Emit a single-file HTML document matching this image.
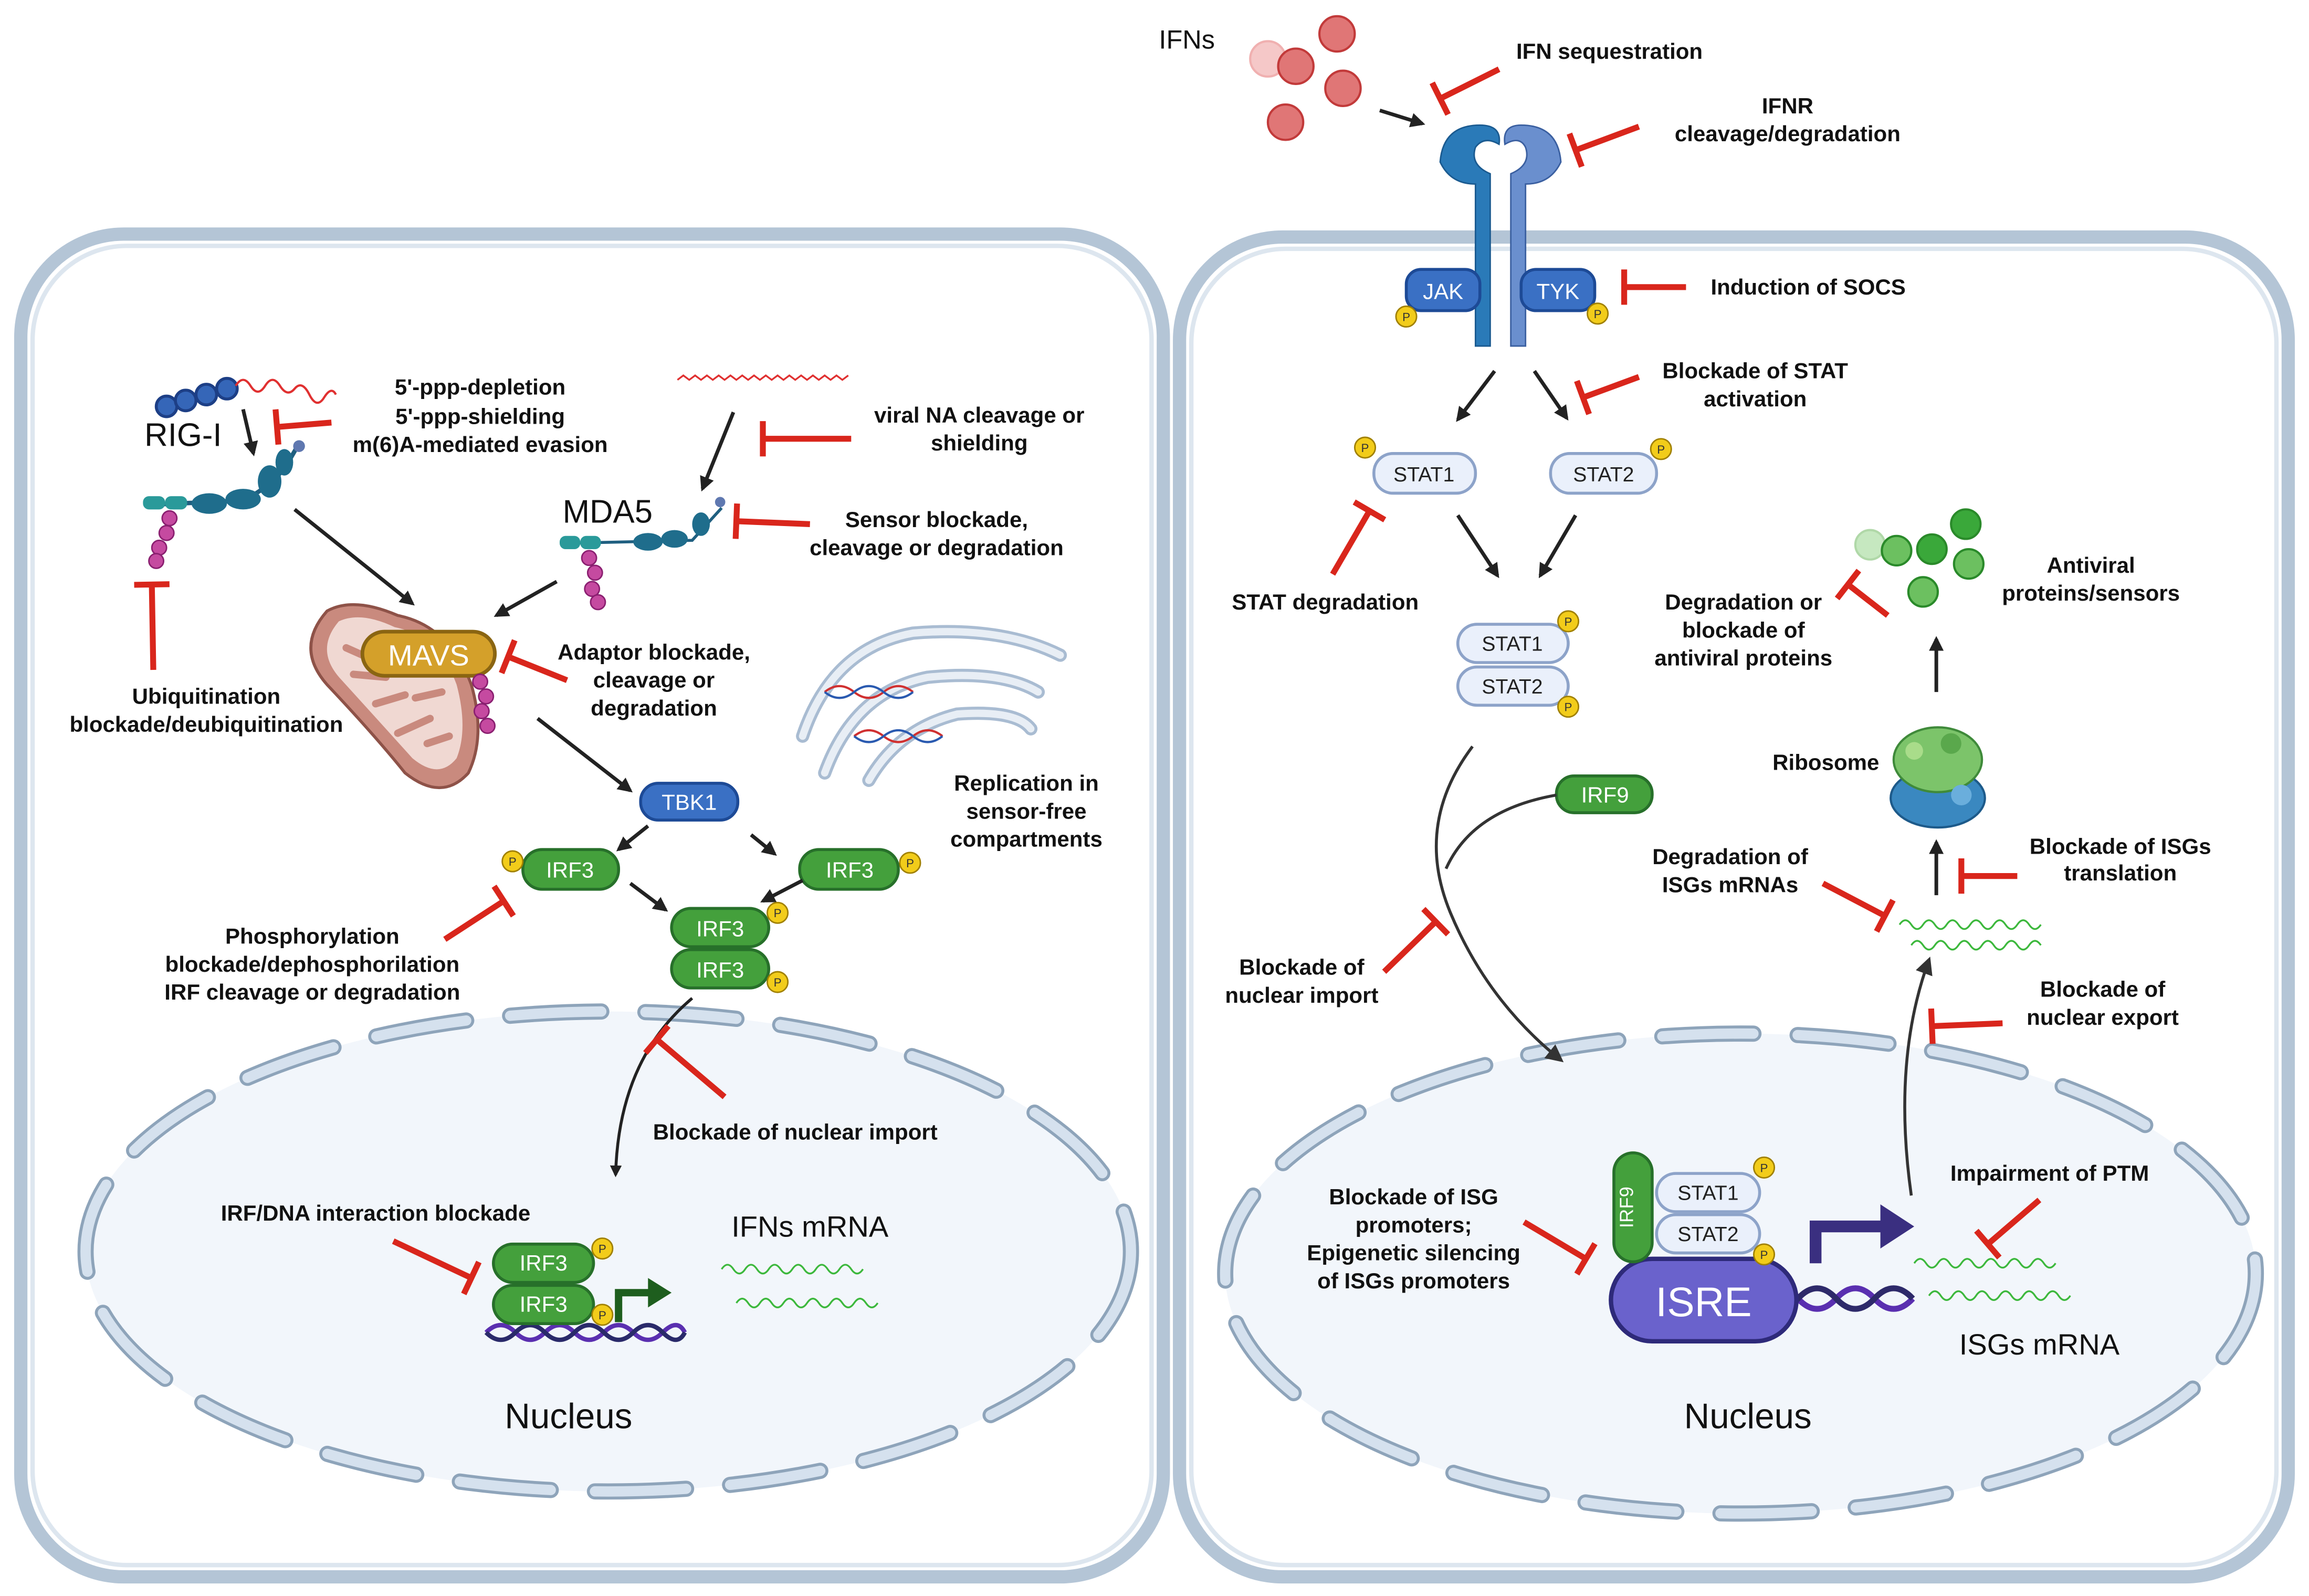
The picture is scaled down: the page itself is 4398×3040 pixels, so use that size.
<!DOCTYPE html>
<html><head><meta charset="utf-8">
<style>
html,body{margin:0;padding:0;background:#fff;}
svg{display:block;}
text{font-family:"Liberation Sans",sans-serif;}
.b{font-weight:bold;font-size:15px;fill:#111;text-anchor:middle;}
.w{fill:#fff;text-anchor:middle;font-size:15px;}
.k{fill:#222;text-anchor:middle;font-size:14px;}
</style></head>
<body>
<svg id="s" width="4398" height="3040" viewBox="0 0 1568 1084" xmlns="http://www.w3.org/2000/svg">
<defs>
<marker id="ah" viewBox="0 0 10 10" refX="8" refY="5" markerWidth="4" markerHeight="4" orient="auto"><path d="M0,0L10,5L0,10z" fill="#222"/></marker>
<marker id="ah2" viewBox="0 0 10 10" refX="8" refY="5" markerWidth="6" markerHeight="6" orient="auto"><path d="M0,0L10,5L0,10z" fill="#333"/></marker>
</defs>
<rect width="1568" height="1084" fill="#fff"/>
<!-- cells -->
<rect x="14" y="159" width="776" height="912" rx="70" fill="#fff" stroke="#b4c5d6" stroke-width="9"/>
<rect x="22" y="167" width="760" height="896" rx="64" fill="none" stroke="#dde6ef" stroke-width="3"/>
<rect x="801" y="161" width="753" height="910" rx="70" fill="#fff" stroke="#b4c5d6" stroke-width="9"/>
<rect x="809" y="169" width="737" height="894" rx="64" fill="none" stroke="#dde6ef" stroke-width="3"/>
<!-- nuclei -->
<ellipse cx="413" cy="850" rx="355" ry="163" fill="#f2f6fb"/>
<ellipse cx="413" cy="850" rx="355" ry="163" fill="none" stroke="#8ea4ba" stroke-width="11" stroke-dasharray="62 30" stroke-linecap="round"/>
<ellipse cx="413" cy="850" rx="355" ry="163" fill="none" stroke="#d5e1ee" stroke-width="7" stroke-dasharray="62 30" stroke-linecap="round"/>
<ellipse cx="1182" cy="865" rx="350" ry="163" fill="#f2f6fb"/>
<ellipse cx="1182" cy="865" rx="350" ry="163" fill="none" stroke="#8ea4ba" stroke-width="11" stroke-dasharray="62 30" stroke-linecap="round"/>
<ellipse cx="1182" cy="865" rx="350" ry="163" fill="none" stroke="#d5e1ee" stroke-width="7" stroke-dasharray="62 30" stroke-linecap="round"/>

<!-- LEFT -->
<g fill="#3566b8" stroke="#1d3f86" stroke-width="2"><circle cx="113" cy="276" r="7"/><circle cx="126" cy="272" r="7"/><circle cx="140" cy="268" r="7"/><circle cx="154" cy="264" r="7"/></g>
<path d="M160,262 q5,-8 10,0 t10,0 t10,0 t10,2 t10,4 t10,2 t8,-2" fill="none" stroke="#e03030" stroke-width="1.5"/>
<text x="98" y="303" font-size="22" fill="#111">RIG-I</text>
<line x1="165" y1="278" x2="172" y2="308" stroke="#222" stroke-width="2.5" marker-end="url(#ah)"/>
<path d="M98,343 L165,340 Q185,330 195,315 L202,303" fill="none" stroke="#1f5f80" stroke-width="3"/>
<g fill="#1f6d8c"><rect x="97" y="337" width="15" height="9" rx="4" fill="#2a9a9a"/><rect x="112" y="337" width="15" height="9" rx="4" fill="#2a9a9a"/><ellipse cx="142" cy="342" rx="12" ry="7"/><ellipse cx="165" cy="339" rx="12" ry="7"/><ellipse cx="183" cy="327" rx="8" ry="11"/><ellipse cx="193" cy="314" rx="6" ry="9"/><circle cx="203" cy="303" r="4" fill="#5f78b0"/></g>
<g fill="#c54aa0" stroke="#8a1f70" stroke-width="1"><circle cx="115" cy="352" r="5"/><circle cx="113" cy="362" r="5"/><circle cx="108" cy="372" r="5"/><circle cx="106" cy="381" r="5"/></g>
<text class="b" x="326" y="268">5'-ppp-depletion</text>
<text class="b" x="326" y="288">5'-ppp-shielding</text>
<text class="b" x="326" y="307">m(6)A-mediated evasion</text>
<text class="b" x="140" y="478">Ubiquitination</text>
<text class="b" x="140" y="497">blockade/deubiquitination</text>
<line x1="200" y1="346" x2="280" y2="410" stroke="#222" stroke-width="2.5" marker-end="url(#ah)"/>
<path d="M460,258 l4,-3 l4,3 l4,-3 l4,3 l4,-3 l4,3 l4,-3 l4,3 l4,-3 l4,3 l4,-3 l4,3 l4,-3 l4,3 l4,-3 l4,3 l4,-3 l4,3 l4,-3 l4,3 l4,-3 l4,3 l4,-3 l4,3 l4,-3 l4,3 l4,-3 l4,3 l4,-3" fill="none" stroke="#e03030" stroke-width="1.2"/>
<line x1="498" y1="280" x2="477" y2="332" stroke="#222" stroke-width="2.5" marker-end="url(#ah)"/>
<text x="382" y="355" font-size="22" fill="#111">MDA5</text>
<text class="b" x="665" y="287">viral NA cleavage or</text>
<text class="b" x="665" y="306">shielding</text>
<path d="M384,369 L470,367 L490,345" fill="none" stroke="#1f5f80" stroke-width="2"/>
<g fill="#1f6d8c"><rect x="380" y="364" width="14" height="9" rx="4" fill="#2a9a9a"/><rect x="394" y="364" width="14" height="9" rx="4" fill="#2a9a9a"/><ellipse cx="440" cy="368" rx="10" ry="6"/><ellipse cx="458" cy="366" rx="9" ry="6"/><ellipse cx="476" cy="356" rx="6" ry="8"/><circle cx="489" cy="341" r="3.5" fill="#5f78b0"/></g>
<g fill="#c54aa0" stroke="#8a1f70" stroke-width="1"><circle cx="400" cy="379" r="5"/><circle cx="404" cy="389" r="5"/><circle cx="402" cy="400" r="5"/><circle cx="406" cy="409" r="5"/></g>
<text class="b" x="636" y="358">Sensor blockade,</text>
<text class="b" x="636" y="377">cleavage or degradation</text>
<line x1="378" y1="395" x2="337" y2="418" stroke="#222" stroke-width="2.5" marker-end="url(#ah)"/>
<!-- mitochondrion -->
<path d="M222,415 Q200,440 222,465 Q255,500 275,525 Q300,545 318,525 Q330,500 320,465 Q305,425 270,418 Q240,405 222,415z" fill="#c98a7e" stroke="#8e5248" stroke-width="2"/>
<path d="M230,422 Q213,442 232,462 Q262,495 280,515 Q298,530 310,515 Q318,495 310,465 Q298,432 268,426 Q245,415 230,422z" fill="#f0d8d2"/>
<g fill="none" stroke="#c98a7e" stroke-width="5" stroke-linecap="round"><path d="M235,440 l18,8"/><path d="M240,458 l22,2"/><path d="M255,478 l20,-6"/><path d="M270,498 l22,-10"/><path d="M300,470 l-18,4"/><path d="M305,500 l-15,5"/></g>
<rect x="246" y="429" width="90" height="30" rx="15" fill="#d4a02a" stroke="#8a6512" stroke-width="2.5"/>
<text x="291" y="452" font-size="20" fill="#fff" text-anchor="middle">MAVS</text>
<g fill="#c54aa0" stroke="#8a1f70" stroke-width="1"><circle cx="326" cy="463" r="5"/><circle cx="330" cy="473" r="5"/><circle cx="327" cy="483" r="5"/><circle cx="331" cy="493" r="5"/></g>
<text class="b" x="444" y="448">Adaptor blockade,</text>
<text class="b" x="444" y="467">cleavage or</text>
<text class="b" x="444" y="486">degradation</text>
<line x1="365" y1="488" x2="428" y2="537" stroke="#222" stroke-width="2.5" marker-end="url(#ah)"/>
<rect x="435" y="532" width="66" height="25" rx="12" fill="#3a70c4" stroke="#1d4a96" stroke-width="2"/>
<text class="w" x="468" y="550">TBK1</text>
<!-- golgi -->
<g fill="none" stroke="#a9bcd2" stroke-width="9" stroke-linecap="round"><path d="M545,500 Q565,440 620,430 Q680,425 720,445"/><path d="M560,525 Q580,470 630,460 Q680,455 705,470"/><path d="M590,530 Q610,495 650,485 Q690,482 700,495"/></g>
<g fill="none" stroke="#e8eef5" stroke-width="5" stroke-linecap="round"><path d="M545,500 Q565,440 620,430 Q680,425 720,445"/><path d="M560,525 Q580,470 630,460 Q680,455 705,470"/><path d="M590,530 Q610,495 650,485 Q690,482 700,495"/></g>
<path d="M560,470 q10,-8 20,0 t20,0 t20,0 M580,500 q10,-8 20,0 t20,0 t20,0" fill="none" stroke="#d03030" stroke-width="1.5"/>
<path d="M560,470 q10,8 20,0 t20,0 t20,0 M580,500 q10,8 20,0 t20,0 t20,0" fill="none" stroke="#2a5ab0" stroke-width="1.5"/>
<text class="b" x="697" y="537">Replication in</text>
<text class="b" x="697" y="556">sensor-free</text>
<text class="b" x="697" y="575">compartments</text>
<line x1="440" y1="561" x2="420" y2="577" stroke="#222" stroke-width="2.5" marker-end="url(#ah)"/>
<line x1="510" y1="567" x2="526" y2="580" stroke="#222" stroke-width="2.5" marker-end="url(#ah)"/>
<g id="irf">
<rect x="355" y="577" width="65" height="27" rx="13" fill="#44a03c" stroke="#27702a" stroke-width="2"/><text class="w" x="387" y="596">IRF3</text>
<rect x="543" y="577" width="67" height="27" rx="13" fill="#44a03c" stroke="#27702a" stroke-width="2"/><text class="w" x="577" y="596">IRF3</text>
<rect x="456" y="617" width="66" height="26" rx="13" fill="#44a03c" stroke="#27702a" stroke-width="2"/><text class="w" x="489" y="636">IRF3</text>
<rect x="456" y="645" width="66" height="26" rx="13" fill="#44a03c" stroke="#27702a" stroke-width="2"/><text class="w" x="489" y="664">IRF3</text>
</g>
<line x1="428" y1="600" x2="452" y2="618" stroke="#222" stroke-width="2.5" marker-end="url(#ah)"/>
<line x1="545" y1="598" x2="518" y2="612" stroke="#222" stroke-width="2.5" marker-end="url(#ah)"/>
<text class="b" x="212" y="641">Phosphorylation</text>
<text class="b" x="212" y="660">blockade/dephosphorilation</text>
<text class="b" x="212" y="679">IRF cleavage or degradation</text>
<path d="M470,678 Q420,720 418,798" fill="none" stroke="#222" stroke-width="2" marker-end="url(#ah)"/>
<text class="b" x="540" y="774">Blockade of nuclear import</text>
<text class="b" x="255" y="829">IRF/DNA interaction blockade</text>
<path d="M330,905 q10,-10 20,0 t20,0 t20,0 t20,0 t20,0 t20,0 t15,0" fill="none" stroke="#5a2fb0" stroke-width="3"/>
<path d="M330,905 q10,10 20,0 t20,0 t20,0 t20,0 t20,0 t20,0 t15,0" fill="none" stroke="#2a2a6a" stroke-width="3"/>
<rect x="335" y="845" width="68" height="26" rx="13" fill="#44a03c" stroke="#27702a" stroke-width="2"/><text class="w" x="369" y="863">IRF3</text>
<rect x="335" y="873" width="68" height="26" rx="13" fill="#44a03c" stroke="#27702a" stroke-width="2"/><text class="w" x="369" y="891">IRF3</text>
<path d="M420,898 L420,878 L442,878" fill="none" stroke="#1e5e1e" stroke-width="5"/>
<path d="M440,868 L456,878 L440,888z" fill="#1e5e1e"/>
<text x="550" y="840" font-size="20" fill="#111" text-anchor="middle">IFNs mRNA</text>
<path d="M490,862 q4,-6 8,0 t8,0 t8,0 t8,0 t8,0 t8,0 t8,0 t8,0 t8,0 t8,0 t8,0 t8,0 M500,885 q4,-6 8,0 t8,0 t8,0 t8,0 t8,0 t8,0 t8,0 t8,0 t8,0 t8,0 t8,0 t8,0" fill="none" stroke="#3cb83c" stroke-width="1.2"/>
<text x="386" y="970" font-size="24" fill="#111" text-anchor="middle">Nucleus</text>

<!-- RIGHT -->
<text x="806" y="33" font-size="18" fill="#111" text-anchor="middle">IFNs</text>
<g stroke="#c23a3a" stroke-width="1.5"><circle cx="861" cy="40" r="12" fill="#f5c8c8" stroke="#f0b0b0"/><circle cx="880" cy="45" r="12" fill="#e07676"/><circle cx="908" cy="23" r="12" fill="#e07676"/><circle cx="912" cy="60" r="12" fill="#e07676"/><circle cx="873" cy="83" r="12" fill="#e07676"/></g>
<line x1="937" y1="75" x2="966" y2="84" stroke="#222" stroke-width="2.5" marker-end="url(#ah)"/>
<text class="b" x="1093" y="40">IFN sequestration</text>
<!-- receptor -->
<path d="M978,110 Q980,85 1005,85 Q1020,85 1018,98 Q1008,92 1002,100 Q998,112 1012,118 L1012,235 L1002,235 L1002,125 Q985,125 978,110z" fill="#2a7ab8" stroke="#1a5a90" stroke-width="1"/>
<path d="M1060,110 Q1058,85 1033,85 Q1020,85 1022,98 Q1032,92 1036,100 Q1040,112 1026,118 L1026,235 L1036,235 L1036,125 Q1053,125 1060,110z" fill="#6a8fce" stroke="#3a5fa0" stroke-width="1"/>
<text class="b" x="1214" y="77">IFNR</text>
<text class="b" x="1214" y="96">cleavage/degradation</text>
<rect x="955" y="183" width="50" height="28" rx="10" fill="#3a70c4" stroke="#1d4a96" stroke-width="2"/><text class="w" x="980" y="203">JAK</text>
<rect x="1033" y="183" width="50" height="28" rx="10" fill="#3a70c4" stroke="#1d4a96" stroke-width="2"/><text class="w" x="1058" y="203">TYK</text>
<text class="b" x="1228" y="200">Induction of SOCS</text>
<line x1="1015" y1="252" x2="990" y2="285" stroke="#222" stroke-width="2.5" marker-end="url(#ah)"/>
<line x1="1042" y1="252" x2="1064" y2="284" stroke="#222" stroke-width="2.5" marker-end="url(#ah)"/>
<text class="b" x="1192" y="257">Blockade of STAT</text>
<text class="b" x="1192" y="276">activation</text>
<g fill="#eaf0fb" stroke="#8da3c9" stroke-width="2">
<rect x="933" y="308" width="69" height="27" rx="13"/><rect x="1053" y="308" width="72" height="27" rx="13"/>
<rect x="990" y="424" width="75" height="26" rx="13"/><rect x="990" y="453" width="75" height="26" rx="13"/>
<rect x="1125" y="797" width="70" height="26" rx="13"/><rect x="1125" y="825" width="70" height="26" rx="13"/>
</g>
<text class="k" x="967" y="327">STAT1</text><text class="k" x="1089" y="327">STAT2</text>
<text class="k" x="1027" y="442">STAT1</text><text class="k" x="1027" y="471">STAT2</text>
<text class="k" x="1160" y="815">STAT1</text><text class="k" x="1160" y="843">STAT2</text>
<line x1="990" y1="350" x2="1017" y2="391" stroke="#222" stroke-width="2.5" marker-end="url(#ah)"/>
<line x1="1070" y1="350" x2="1046" y2="391" stroke="#222" stroke-width="2.5" marker-end="url(#ah)"/>
<text class="b" x="900" y="414">STAT degradation</text>
<rect x="1057" y="527" width="65" height="25" rx="12" fill="#44a03c" stroke="#27702a" stroke-width="2"/><text class="w" x="1090" y="545">IRF9</text>
<path d="M1000,507 Q960,560 985,620 Q1010,680 1060,720" fill="none" stroke="#333" stroke-width="2" marker-end="url(#ah2)"/>
<path d="M1057,540 Q1000,550 982,590" fill="none" stroke="#333" stroke-width="2"/>
<text class="b" x="884" y="662">Blockade of</text>
<text class="b" x="884" y="681">nuclear import</text>
<!-- nucleus right -->
<path d="M1195,882 q13,-14 26,0 t26,0 t26,0 t26,0" fill="none" stroke="#5a2fb0" stroke-width="4"/>
<path d="M1195,882 q13,14 26,0 t26,0 t26,0 t26,0" fill="none" stroke="#2e2a6a" stroke-width="4"/>
<rect x="1094" y="855" width="126" height="56" rx="28" fill="#6a62cc" stroke="#2e2a7a" stroke-width="3"/>
<text x="1157" y="894" font-size="28" fill="#fff" text-anchor="middle">ISRE</text>
<rect x="1096" y="783" width="26" height="74" rx="13" fill="#44a03c" stroke="#27702a" stroke-width="2"/>
<text x="1114" y="820" font-size="13" fill="#fff" text-anchor="middle" transform="rotate(-90 1114 820)" dy="-5">IRF9</text>
<path d="M1233,858 L1233,833 L1280,833" fill="none" stroke="#3a2f80" stroke-width="8"/>
<path d="M1277,818 L1300,833 L1277,848z" fill="#3a2f80"/>
<text class="b" x="960" y="818">Blockade of ISG</text>
<text class="b" x="960" y="837">promoters;</text>
<text class="b" x="960" y="856">Epigenetic silencing</text>
<text class="b" x="960" y="875">of ISGs promoters</text>
<text class="b" x="1392" y="802">Impairment of PTM</text>
<path d="M1300,858 q4,-6 8,0 t8,0 t8,0 t8,0 t8,0 t8,0 t8,0 t8,0 t8,0 t8,0 t8,0 t8,0 M1310,880 q4,-6 8,0 t8,0 t8,0 t8,0 t8,0 t8,0 t8,0 t8,0 t8,0 t8,0 t8,0 t8,0" fill="none" stroke="#3cb83c" stroke-width="1.2"/>
<text x="1385" y="920" font-size="20" fill="#111" text-anchor="middle">ISGs mRNA</text>
<text x="1187" y="970" font-size="24" fill="#111" text-anchor="middle">Nucleus</text>
<path d="M1298,812 Q1285,720 1310,652" fill="none" stroke="#333" stroke-width="2" marker-end="url(#ah2)"/>
<text class="b" x="1428" y="677">Blockade of</text>
<text class="b" x="1428" y="696">nuclear export</text>
<path d="M1290,628 q4,-6 8,0 t8,0 t8,0 t8,0 t8,0 t8,0 t8,0 t8,0 t8,0 t8,0 t8,0 t8,0 M1298,642 q4,-6 8,0 t8,0 t8,0 t8,0 t8,0 t8,0 t8,0 t8,0 t8,0 t8,0 t8,0" fill="none" stroke="#3cb83c" stroke-width="1.2"/>
<text class="b" x="1175" y="587">Degradation of</text>
<text class="b" x="1175" y="606">ISGs mRNAs</text>
<line x1="1315" y1="608" x2="1315" y2="572" stroke="#222" stroke-width="2.5" marker-end="url(#ah)"/>
<text class="b" x="1440" y="580">Blockade of ISGs</text>
<text class="b" x="1440" y="598">translation</text>
<!-- ribosome -->
<ellipse cx="1316" cy="542" rx="32" ry="20" fill="#3a88c0" stroke="#1d5a8a" stroke-width="1.5"/>
<ellipse cx="1316" cy="516" rx="30" ry="22" fill="#7cc46a" stroke="#3f8a3a" stroke-width="1.5"/>
<circle cx="1300" cy="510" r="6" fill="#a9dc8a"/><circle cx="1325" cy="505" r="7" fill="#5aa84c"/><circle cx="1332" cy="540" r="7" fill="#6aaedc"/>
<text class="b" x="1240" y="523">Ribosome</text>
<line x1="1315" y1="470" x2="1315" y2="434" stroke="#222" stroke-width="2.5" marker-end="url(#ah)"/>
<g stroke="#2a8a2a" stroke-width="1.5"><circle cx="1270" cy="370" r="10" fill="#c6e8c0" stroke="#b0d8a8"/><circle cx="1288" cy="374" r="10" fill="#6cc060"/><circle cx="1312" cy="373" r="10" fill="#3aa83a"/><circle cx="1335" cy="356" r="10" fill="#3aa83a"/><circle cx="1337" cy="383" r="10" fill="#6cc060"/><circle cx="1306" cy="402" r="10" fill="#6cc060"/></g>
<text class="b" x="1184" y="414">Degradation or</text>
<text class="b" x="1184" y="433">blockade of</text>
<text class="b" x="1184" y="452">antiviral proteins</text>
<text class="b" x="1420" y="389">Antiviral</text>
<text class="b" x="1420" y="408">proteins/sensors</text>
<g id="inh" stroke="#d9261c" stroke-width="4" fill="none"></g>
<g fill="#f2cc1a" stroke="#a08000" stroke-width="1" id="ps"></g>
</svg>
<script>
var T=[[225,287,188,290],[104,455,103,397],[578,298,518,298],[550,356,500,354],[385,462,345,446],[302,638,342,612],[492,745,446,706],[267,843,320,868],
[1018,47,978,67],[1113,86,1070,102],[1145,195,1103,195],[1113,256,1075,270],[905,390,930,347],[940,660,975,626],[1035,830,1077,855],[1385,815,1350,845],[1360,695,1312,697],[1238,600,1280,622],[1370,595,1332,595],[1282,418,1255,397]];
var g=document.getElementById('inh'),ns='http://www.w3.org/2000/svg';
T.forEach(function(t){var dx=t[2]-t[0],dy=t[3]-t[1],L=Math.hypot(dx,dy),nx=-dy/L*12,ny=dx/L*12;
var p=document.createElementNS(ns,'path');p.setAttribute('d','M'+t[0]+','+t[1]+'L'+t[2]+','+t[3]+'M'+(t[2]+nx)+','+(t[3]+ny)+'L'+(t[2]-nx)+','+(t[3]-ny));g.appendChild(p);});
var P=[[348,585],[618,586],[528,620],[528,667],[409,848],[409,893],[955,215],[1085,213],[927,304],[1128,305],[1065,422],[1065,480],[1198,793],[1198,852]];
var q=document.getElementById('ps');
P.forEach(function(p){var c=document.createElementNS(ns,'circle');c.setAttribute('cx',p[0]);c.setAttribute('cy',p[1]);c.setAttribute('r',7);q.appendChild(c);
var t=document.createElementNS(ns,'text');t.setAttribute('x',p[0]);t.setAttribute('y',p[1]+3);t.setAttribute('font-size','8');t.setAttribute('text-anchor','middle');t.setAttribute('fill','#333');t.setAttribute('stroke','none');t.textContent='P';q.appendChild(t);});
</script>
</body></html>
